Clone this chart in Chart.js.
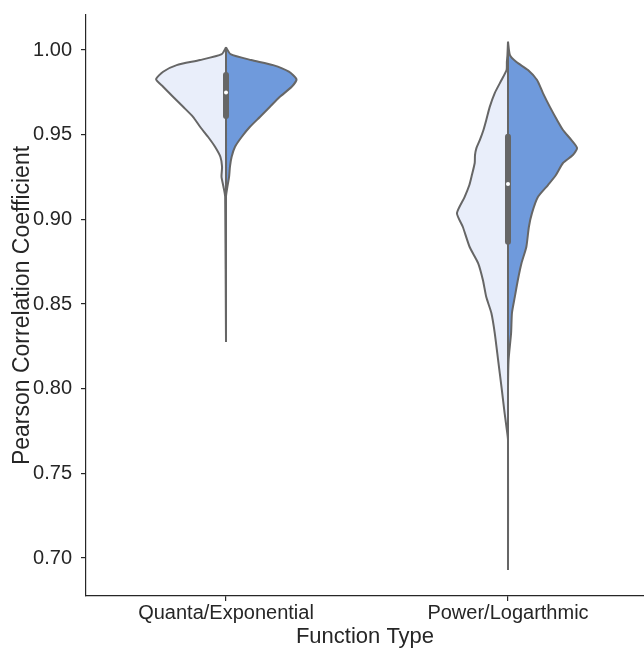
<!DOCTYPE html>
<html>
<head>
<meta charset="utf-8">
<script src="https://cdn.jsdelivr.net/npm/chart.js@4.4.1/dist/chart.umd.min.js"></script>
<style>
  html, body { margin: 0; padding: 0; background: #ffffff; overflow: hidden; }
  #wrap { width: 644px; height: 648px; overflow: hidden; }
  canvas { display: block; }
</style>
</head>
<body>
<div id="wrap"><canvas id="chart" width="648" height="648"></canvas></div>
<script>
// Categories and axis ticks
const categories = ['Quanta/Exponential', 'Power/Logarthmic'];
const yTicks = [0.70, 0.75, 0.80, 0.85, 0.90, 0.95, 1.00];

// Density outline of the Quanta/Exponential violin: correlation values and
// half-widths (in category units) of the left and right halves
const quantaValues = [1.0016, 0.9976, 0.9941, 0.9911, 0.9872, 0.9827, 0.9783, 0.9724, 0.9665, 0.9606,
                      0.9547, 0.9488, 0.9429, 0.9370, 0.9311, 0.9252, 0.9193, 0.9134, 0.8276];
const quantaLeft   = [0, 0.015, 0.092, 0.175, 0.223, 0.248, 0.223, 0.188, 0.152, 0.117,
                      0.092, 0.064, 0.039, 0.020, 0.014, 0.016, 0.009, 0.003, 0];
const quantaRight  = [0, 0.016, 0.089, 0.167, 0.223, 0.250, 0.233, 0.191, 0.156, 0.121,
                      0.085, 0.056, 0.032, 0.020, 0.014, 0.011, 0.005, 0, 0];

// Density outline of the Power/Logarthmic violin
const powerValues = [1.0049, 0.9970, 0.9929, 0.9882, 0.9823, 0.9746, 0.9663, 0.9587, 0.9528, 0.9468,
                     0.9421, 0.9380, 0.9333, 0.9262, 0.9203, 0.9132, 0.9037, 0.8955, 0.8837, 0.8742,
                     0.8642, 0.8541, 0.8447, 0.8329, 0.8169, 0.8010, 0.7856, 0.7756, 0.7697, 0.6929];
const powerLeft   = [0, 0.002, 0.004, 0.005, 0.023, 0.047, 0.065, 0.077, 0.087, 0.100,
                     0.112, 0.117, 0.118, 0.128, 0.137, 0.154, 0.181, 0.160, 0.136, 0.106,
                     0.089, 0.077, 0.059, 0.047, 0.035, 0.023, 0.012, 0.004, 0, 0];
const powerRight  = [0, 0.007, 0.030, 0.071, 0.103, 0.124, 0.149, 0.174, 0.195, 0.225,
                     0.245, 0.230, 0.195, 0.170, 0.142, 0.106, 0.085, 0.074, 0.065, 0.048,
                     0.035, 0.024, 0.014, 0.011, 0.002, 0, 0, 0, 0, 0];

// Inner box: quartiles and medians per category
const boxQ1   = [0.9610, 0.8868];
const boxQ3   = [0.9852, 0.9488];
const medians = [0.9750, 0.9209];

const LIGHT = '#E9EEFA';
const BLUE = '#6F9ADC';
const EDGE = '#666666';
const INK = '#262626';
const FONT = '"Liberation Sans", Arial, sans-serif';

// Closed half-violin outline: outer edge top to bottom, then back up the centre
function halfViolin(center, values, widths, side) {
  const outer = values.map((v, i) => ({ x: center + side * widths[i], y: v }));
  const inner = values.slice().reverse().map(v => ({ x: center, y: v }));
  return outer.concat(inner);
}

function violinDataset(points, color) {
  return {
    type: 'line',
    data: points,
    backgroundColor: color,
    borderColor: EDGE,
    borderWidth: 2,
    fill: 'shape',
    pointRadius: 0,
    tension: 0.2,
    order: 3
  };
}

const datasets = [
  violinDataset(halfViolin(0, quantaValues, quantaLeft, -1), LIGHT),
  violinDataset(halfViolin(0, quantaValues, quantaRight, 1), BLUE),
  violinDataset(halfViolin(1, powerValues, powerLeft, -1), LIGHT),
  violinDataset(halfViolin(1, powerValues, powerRight, 1), BLUE)
];

categories.forEach((c, i) => {
  datasets.push({
    type: 'line',
    data: [{ x: i, y: boxQ1[i] }, { x: i, y: boxQ3[i] }],
    borderColor: EDGE,
    borderWidth: 6,
    borderCapStyle: 'round',
    pointRadius: 0,
    fill: false,
    order: 2
  });
  datasets.push({
    type: 'scatter',
    data: [{ x: i, y: medians[i] }],
    pointRadius: 2,
    pointBackgroundColor: '#ffffff',
    pointBorderWidth: 0,
    order: 1
  });
});

// Fixed axis band sizes, without the extra edge padding for labels
function clearPadding(s) {
  s.paddingTop = 0; s.paddingBottom = 0; s.paddingLeft = 0; s.paddingRight = 0;
}

new Chart(document.getElementById('chart'), {
  type: 'scatter',
  data: { datasets },
  options: {
    responsive: false,
    animation: false,
    devicePixelRatio: 1,
    layout: { padding: { top: 15, right: 0, left: 0, bottom: 0 } },
    plugins: { legend: { display: false }, tooltip: { enabled: false } },
    scales: {
      x: {
        type: 'linear',
        min: -0.4965,
        max: 1.4823,
        afterBuildTicks: s => { s.ticks = categories.map((c, i) => ({ value: i })); },
        afterFit: s => { s.height = 52; clearPadding(s); },
        ticks: {
          autoSkip: false,
          maxRotation: 0,
          padding: 0,
          color: INK,
          font: { family: FONT, size: 20 },
          callback: v => categories[v]
        },
        grid: { display: true, drawOnChartArea: false, drawTicks: true, tickLength: 5, color: INK, lineWidth: 1.2 },
        border: { display: true, color: INK, width: 1.2 },
        title: {
          display: true,
          text: 'Function Type',
          color: INK,
          padding: { top: 0, bottom: -2 },
          font: { family: FONT, size: 22 }
        }
      },
      y: {
        type: 'linear',
        min: 0.6776,
        max: 1.0207,
        afterBuildTicks: s => { s.ticks = yTicks.map(v => ({ value: v })); },
        afterFit: s => { s.width = 86; clearPadding(s); },
        ticks: {
          padding: 9,
          color: INK,
          font: { family: FONT, size: 20 },
          callback: v => Number(v).toFixed(2)
        },
        grid: { display: true, drawOnChartArea: false, drawTicks: true, tickLength: 5, color: INK, lineWidth: 1.2 },
        border: { display: true, color: INK, width: 1.2 },
        title: {
          display: true,
          text: 'Pearson Correlation Coefficient',
          color: INK,
          padding: { top: 9, bottom: 0 },
          font: { family: FONT, size: 23 }
        }
      }
    }
  }
});
</script>
</body>
</html>
